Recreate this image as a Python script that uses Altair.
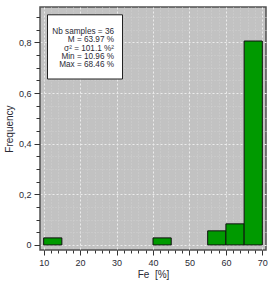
import altair as alt
import pandas as pd

bin_start = [10, 40, 55, 60, 65]
bin_end = [15, 45, 60, 65, 70]
frequency = [0.0278, 0.0278, 0.0556, 0.0833, 0.8056]
x_ticks = list(range(10, 71, 2))
y_ticks = [round(i * 0.05, 2) for i in range(0, 19)]
stats_lines = ["Nb samples = 36", "M = 63.97 %", "σ² = 101.1 %²", "Min = 10.96 %", "Max = 68.46 %"]

df = pd.DataFrame({"start": bin_start, "end": bin_end, "freq": frequency})

FONT = "Liberation Sans"
TXT = "#2a2a35"
major_x = "datum.value % 10 == 0"
major_y = "round(datum.value*100) % 20 == 0"

x_axis = alt.Axis(
    values=x_ticks, title="Fe\u00a0\u00a0[%]", domain=False,
    labelExpr=f"{major_x} ? datum.label : ''",
    tickSize={"condition": {"test": major_x, "value": 5}, "value": 3},
    tickColor="#333333",
    gridColor={"condition": {"test": major_x, "value": "#ececec"}, "value": "#d0d0d0"},
    gridDash={"condition": {"test": major_x, "value": [2, 2]}, "value": [1, 2]},
    gridWidth=1,
    labelFont=FONT, labelFontSize=9, labelColor=TXT, labelPadding=3,
    titleFont=FONT, titleFontSize=10, titleFontWeight="normal", titleColor=TXT, titlePadding=2,
)
y_axis = alt.Axis(
    values=y_ticks, title="Frequency", domain=False,
    labelExpr=f"{major_y} ? (datum.value == 0 ? '0' : replace(format(datum.value, '.1f'), '.', ',')) : ''",
    tickSize={"condition": {"test": major_y, "value": 6}, "value": 4},
    tickColor="#333333",
    gridColor={"condition": {"test": major_y, "value": "#ececec"}, "value": "#d0d0d0"},
    gridDash={"condition": {"test": major_y, "value": [2, 2]}, "value": [1, 2]},
    gridWidth=1,
    labelFont=FONT, labelFontSize=9, labelColor=TXT, labelPadding=3,
    titleFont=FONT, titleFontSize=10, titleFontWeight="normal", titleColor=TXT, titlePadding=4,
)

bars = alt.Chart(df).mark_rect(fill="#009a00", stroke="#111111", strokeWidth=1).encode(
    x=alt.X("start:Q", scale=alt.Scale(domain=[9, 71], nice=False, zero=False), axis=x_axis),
    x2="end:Q",
    y=alt.Y("freq:Q", scale=alt.Scale(domain=[-0.02, 0.94], nice=False, zero=False), axis=y_axis),
    y2=alt.datum(0),
)

box = alt.Chart(pd.DataFrame({"a": [0]})).mark_rect(fill="white", stroke="#222222", strokeWidth=1).encode(
    x=alt.value(7.5), x2=alt.value(82.5), y=alt.value(7.8), y2=alt.value(72)
)

text = alt.Chart(pd.DataFrame({"a": [0]})).mark_text(
    align="right", baseline="middle", font=FONT, fontSize=8.2, color=TXT, lineHeight=8.3
).encode(
    x=alt.value(74), y=alt.value(25), text=alt.value(stats_lines)
)

chart = alt.layer(bars, box, text).properties(
    width=226, height=243,
    autosize=alt.AutoSizeParams(type="none"),
    padding={"left": 40, "top": 7, "right": 5, "bottom": 34},
    background="white",
).configure_view(fill="#c2c2c2", stroke="#505050", strokeWidth=1.5)

chart.save("out.html", embed_options={"renderer": "svg", "actions": False})
